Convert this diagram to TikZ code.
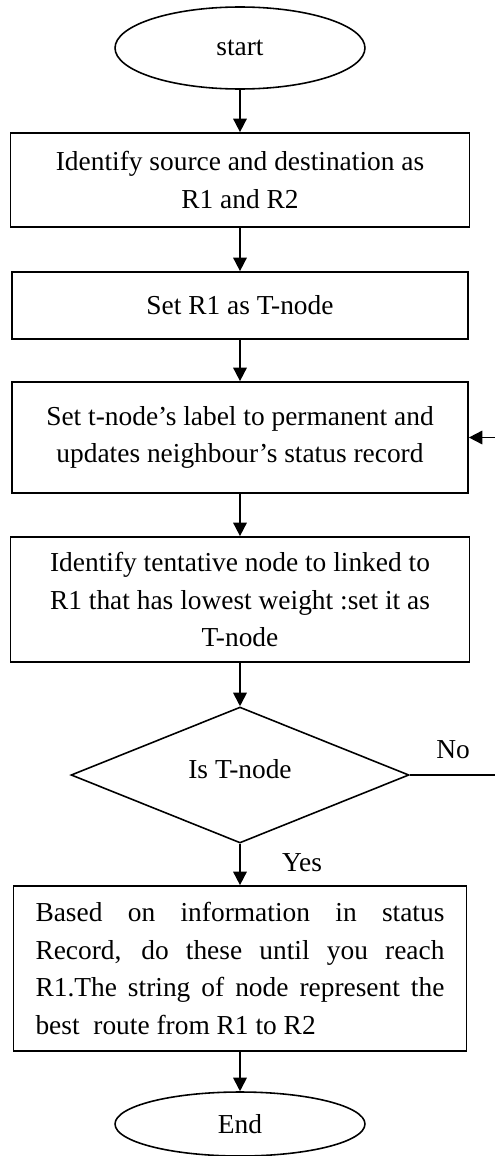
\documentclass[tikz,border=0pt]{standalone}
\usepackage{fontspec}
\setmainfont{Liberation Serif}
\usetikzlibrary{shapes.geometric,arrows.meta}

\tikzstyle{stepbox}=[draw,rectangle,line width=1pt,inner sep=0pt,align=center]
\tikzstyle{term}=[draw,ellipse,line width=0.9pt,inner sep=0pt]
\tikzstyle{decision}=[draw,diamond,line width=0.9pt,inner sep=0pt]
\tikzstyle{edge}=[draw,line width=1pt,-{Triangle[length=0.27cm,width=0.27cm]}]
\tikzstyle{line}=[draw,line width=1pt,-]

\begin{document}
\begin{tikzpicture}[x=0.02cm,y=-0.02cm,auto,every node/.style={font=\fontsize{15.6}{21.5}\selectfont}]
\useasboundingbox (0,0) rectangle (494,1156);

\node[term,minimum width=5cm,minimum height=1.64cm] (start) at (240,48) {start};

\node[stepbox,minimum width=9.18cm,minimum height=1.88cm] (ident) at (240,180)
  {Identify source and destination as\\R1 and R2};
\draw[edge] (start) to (ident);

\node[stepbox,minimum width=9.12cm,minimum height=1.34cm] (setr1) at (240,305.5)
  {Set R1 as T-node};
\draw[edge] (ident) to (setr1);

\node[stepbox,minimum width=9.12cm,minimum height=2.22cm] (perm) at (240,437.5)
  {Set t-node’s label to permanent and\\updates neighbour’s status record};
\draw[edge] (setr1) to (perm);

\node[stepbox,minimum width=9.18cm,minimum height=2.5cm] (tent) at (240,599.5)
  {Identify tentative node to linked to\\R1 that has lowest weight :set it as\\T-node};
\draw[edge] (perm) to (tent);

\node[decision,minimum width=6.76cm,minimum height=2.72cm] (isT) at (240,775)
  {\raisebox{0.24cm}{Is T-node}};
\draw[edge] (tent) to (isT);

% no branch goes back up, outside the page
\coordinate (loopr) at (505,775);
\coordinate (loopt) at (505,437.5);
\draw[line] (isT.east) -- (loopr) -- (loopt);
\draw[edge] (loopt) to (perm.east);
\node (no) at (453,750) {No};

\node[stepbox,minimum width=9.06cm,minimum height=3.3cm,align=left] (route) at (240,968.5)
  {\makebox[8.18cm][s]{Based on information in status}\\
   \makebox[8.18cm][s]{Record, do these until you reach}\\
   \makebox[8.18cm][s]{R1.The string of node represent the}\\
   \makebox[8.18cm][l]{best\ \ route from R1 to R2}};
\draw[edge] (isT) to (route);
\node (yes) at (302,863) {Yes};

\node[term,minimum width=5cm,minimum height=1.28cm] (stop) at (240,1124) {End};
\draw[edge] (route) to (stop);
\end{tikzpicture}
\end{document}
